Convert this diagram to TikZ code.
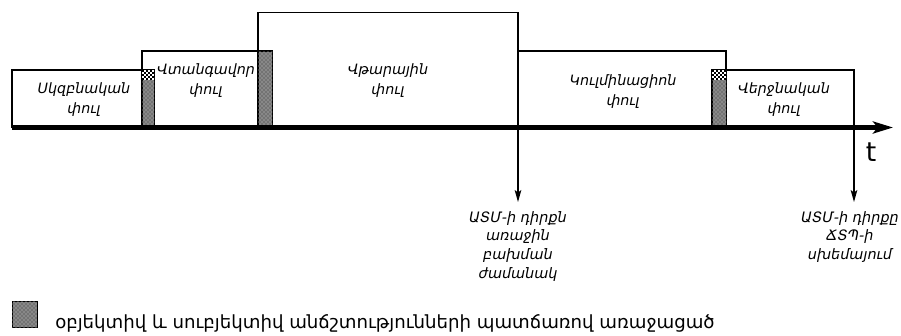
\documentclass[tikz,border=0pt]{standalone}
\usepackage{fontspec}
\setmainfont{DejaVu Sans}
\newfontfamily\armfont{DejaVu Sans}
\usetikzlibrary{patterns,arrows.meta}
\begin{document}
\begin{tikzpicture}[x=0.75pt,y=-0.75pt,
  phasebox/.style={draw=black, line width=1.2pt},
  strip/.style={draw=black, line width=0.6pt, fill=black!55, postaction={pattern=crosshatch dots, pattern color=black!18}},
  lbl/.style={align=center, inner sep=0pt, font={\armfont\itshape\fontsize{10.7}{15}\selectfont}},
  note/.style={align=center, inner sep=0pt, anchor=north, font={\armfont\itshape\fontsize{10.8}{14}\selectfont}},
  axisline/.style={line width=3.4pt, -{Stealth[length=15pt,width=9pt,inset=3.5pt]}},
  droparrow/.style={line width=0.9pt, -{Stealth[length=9pt,width=5pt,inset=2pt]}}]
\useasboundingbox (0,0) rectangle (901,336);
% phase boxes
\draw[phasebox] (258,12.5) rectangle (518,127);
\draw[phasebox] (142,51) rectangle (272,127);
\draw[phasebox] (518,51) rectangle (726,127);
\draw[phasebox] (12,70) rectangle (154,127);
\draw[phasebox] (712,70) rectangle (854,127);
% overlap strips
\draw[strip] (142,70) rectangle (154,127);
\draw[strip] (258,51) rectangle (272,127);
\draw[strip] (712,70) rectangle (726,127);
% checker tops
\foreach \i in {0,...,5}{\foreach \j in {0,...,4}{
  \pgfmathtruncatemacro{\cpar}{mod(\i+\j,2)}
  \ifnum\cpar=0 \fill[black] (142+2*\i,70+2*\j) rectangle ++(2,2);
  \else \fill[white] (142+2*\i,70+2*\j) rectangle ++(2,2);\fi}}
\foreach \i in {0,...,6}{\foreach \j in {0,...,4}{
  \pgfmathtruncatemacro{\cpar}{mod(\i+\j,2)}
  \ifnum\cpar=0 \fill[black] (712+2*\i,70+2*\j) rectangle ++(2,2);
  \else \fill[white] (712+2*\i,70+2*\j) rectangle ++(2,2);\fi}}
% labels
\node[lbl] (p1) at (84,100) {Սկզբնական\\փուլ};
\node[lbl] (p2) at (206,81) {Վտանգավոր\\փուլ};
\node[lbl] (p3) at (388,81) {Վթարային\\փուլ};
\node[lbl] (p4) at (623,92) {Կուլմինացիոն\\փուլ};
\node[lbl] (p5) at (784,100) {Վերջնական\\փուլ};
% axis
\coordinate (a0) at (12,127.5);
\coordinate (a1) at (893,127.5);
\draw[axisline] (a0) -- (a1);
\node[font={\fontsize{20}{24}\selectfont}, inner sep=0pt, anchor=base] (t) at (871,161) {t};
% drop arrows
\coordinate (d1) at (518,127.5);
\coordinate (d2) at (854,127.5);
\coordinate (e1) at (518,202);
\coordinate (e2) at (854,202);
\node[note] (n1) at (518,211) {ԱՏՄ-ի դիրքն\\առաջին\\բախման\\ժամանակ};
\node[note] (n2) at (850,211) {ԱՏՄ-ի դիրքը\\ՃՏՊ-ի\\սխեմայում};
\draw[droparrow] (d1) -- (e1);
\draw[droparrow] (d2) -- (e2);
% legend
\draw[strip] (12,301) rectangle (37,327);
\node[anchor=base west, inner sep=0pt, font={\armfont\fontsize{13.6}{16}\selectfont}] (leg) at (55,328) {օբյեկտիվ և սուբյեկտիվ անճշտությունների պատճառով առաջացած};
\end{tikzpicture}
\end{document}
